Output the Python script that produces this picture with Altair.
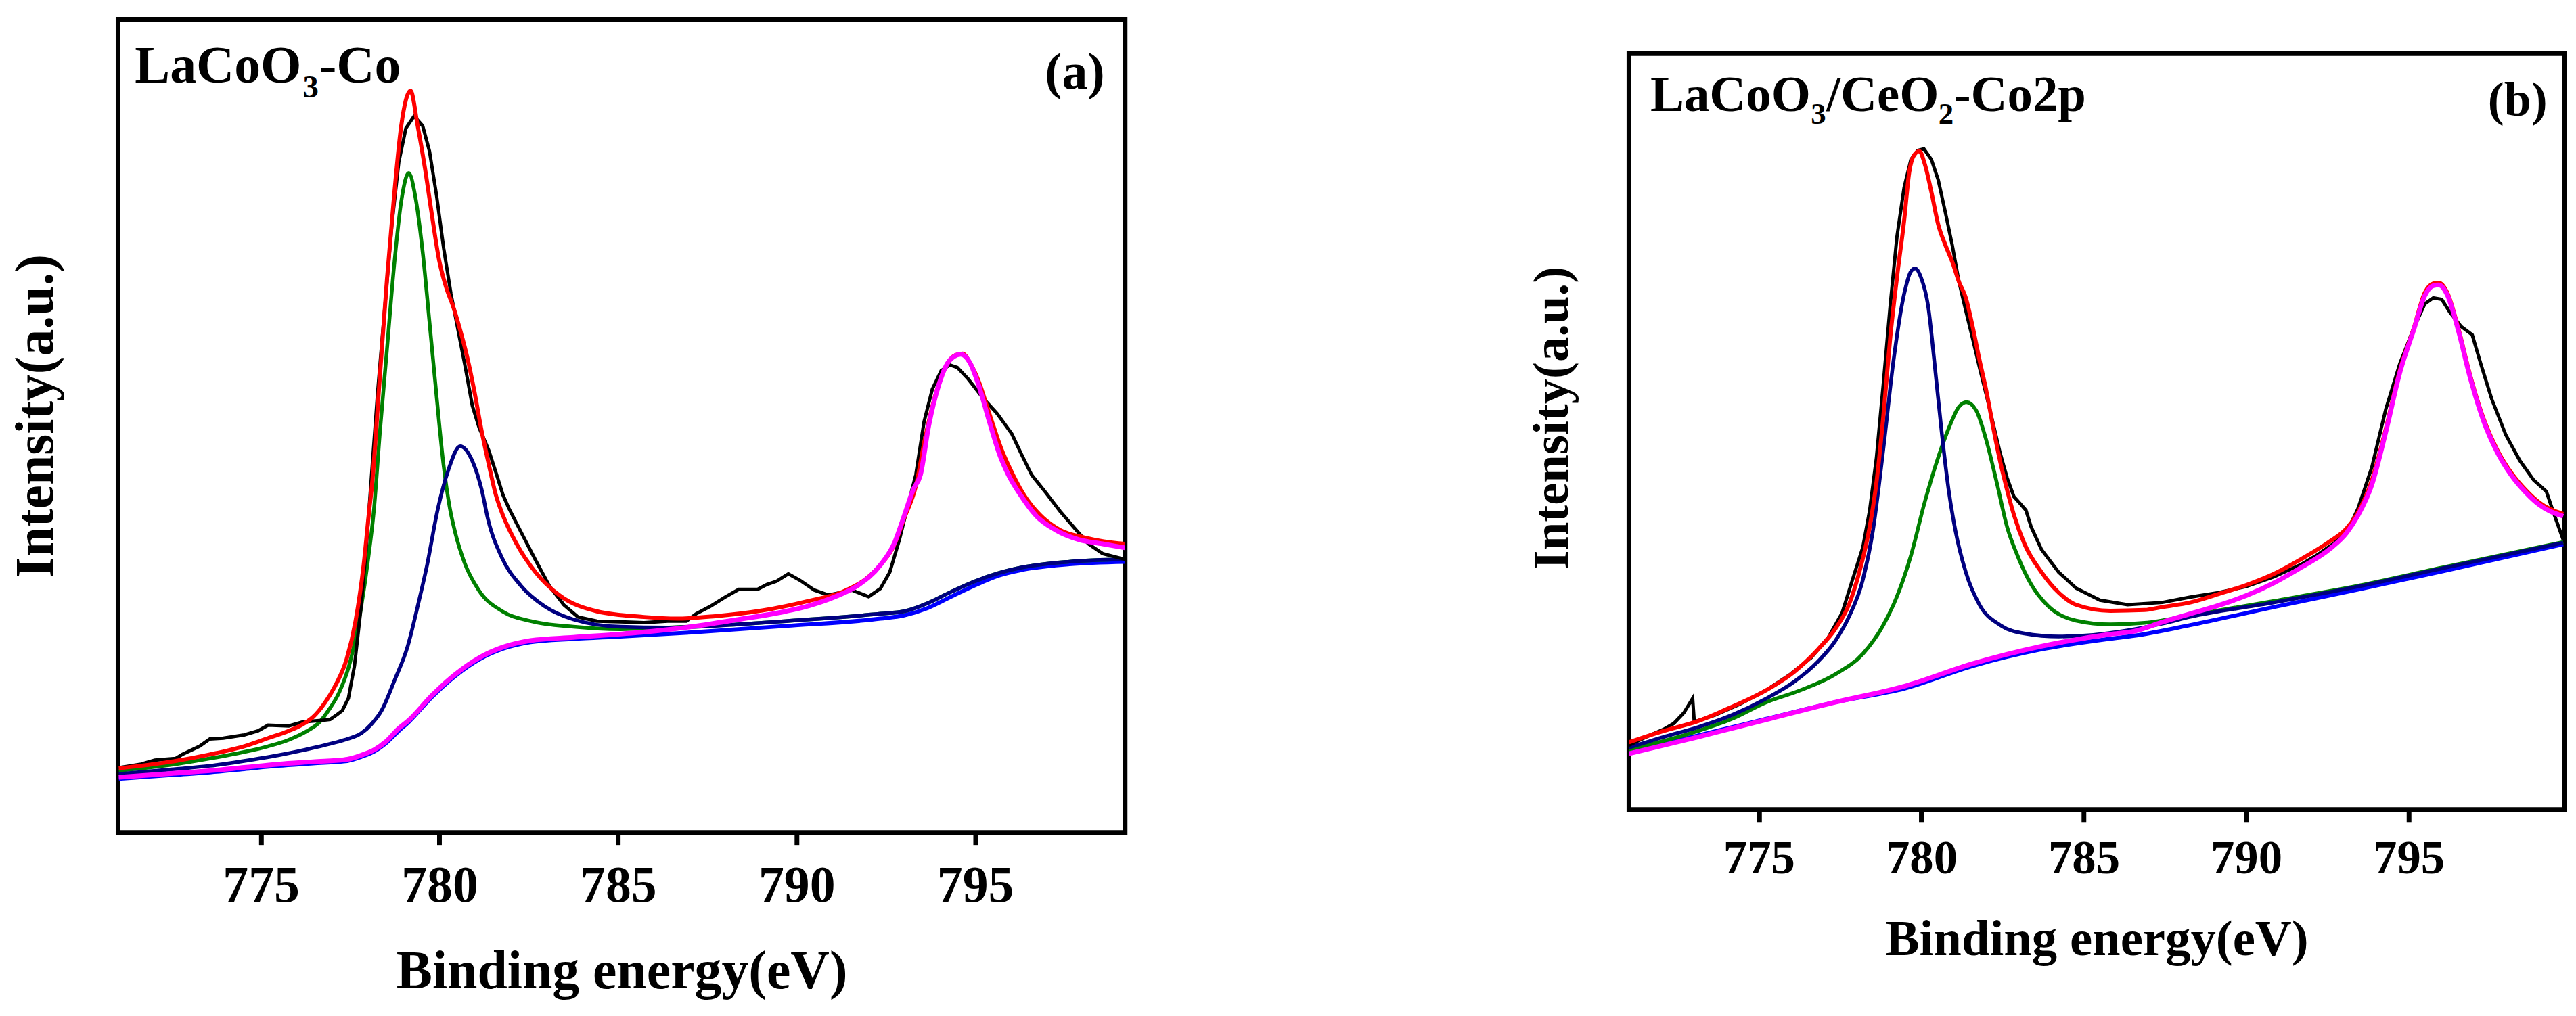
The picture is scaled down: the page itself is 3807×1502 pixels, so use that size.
import altair as alt
import pandas as pd

FONT = "Liberation Serif"

# ---------- panel (a) LaCoO3-Co : (binding energy eV, intensity a.u.) ----------
a_black = [(771.02, 7.96), (771.64, 8.4), (772.03, 8.9), (772.61, 9.1), (772.80, 9.6), (773.28, 10.6),
           (773.57, 11.5), (773.95, 11.6), (774.53, 12.0), (774.92, 12.5), (775.20, 13.2), (775.78, 13.1),
           (776.17, 13.6), (776.75, 13.8), (776.94, 13.9), (777.13, 14.5), (777.28, 15.0), (777.45, 16.5),
           (777.62, 20.5), (777.80, 27.5), (777.95, 35.0), (778.07, 42.2), (778.27, 54.2), (778.47, 64.6),
           (778.67, 74.9), (778.86, 82.4), (779.06, 86.6), (779.29, 88.1), (779.53, 86.9), (779.72, 83.8),
           (779.92, 78.3), (780.12, 71.8), (780.32, 66.3), (780.52, 61.8), (780.72, 57.3), (780.92, 52.5),
           (781.11, 49.8), (781.38, 47.0), (781.58, 44.3), (781.78, 41.5), (781.94, 39.9), (782.29, 36.9),
           (782.69, 33.5), (783.08, 30.3), (783.48, 28.0), (783.88, 26.5), (784.41, 26.0), (785.07, 25.9),
           (785.73, 25.8), (786.39, 26.0), (786.92, 26.0), (787.19, 26.9), (787.58, 27.8), (787.98, 28.9),
           (788.38, 29.9), (788.91, 29.9), (789.17, 30.5), (789.44, 30.9), (789.77, 31.8), (790.10, 31.0),
           (790.50, 29.8), (790.89, 29.2), (791.55, 29.8), (792.02, 29.0), (792.35, 30.0), (792.61, 32.0),
           (792.88, 36.0), (793.14, 40.6), (793.34, 44.0), (793.57, 50.5), (793.80, 54.5), (794.05, 56.8),
           (794.29, 57.5), (794.50, 57.2), (794.80, 55.8), (795.21, 53.5), (795.62, 51.5), (796.03, 49.0),
           (796.30, 46.5), (796.58, 44.0), (796.98, 41.8), (797.38, 39.5), (797.77, 37.5), (798.17, 35.5),
           (798.57, 34.3), (799.10, 33.7), (799.20, 33.6)]

a_red = [(771.02, 7.9), (771.64, 8.2), (772.61, 8.8), (773.57, 9.6), (774.53, 10.6), (775.20, 11.6),
         (775.78, 12.5), (776.17, 13.3), (776.46, 14.2), (776.80, 16.0), (777.10, 18.2), (777.40, 21.3),
         (777.65, 26.0), (777.88, 33.0), (778.04, 39.9), (778.10, 42.2), (778.33, 56.0), (778.53, 68.0),
         (778.73, 78.3), (778.93, 86.9), (779.19, 91.2), (779.39, 86.9), (779.59, 81.8), (779.79, 75.9),
         (779.99, 70.4), (780.19, 67.0), (780.39, 64.6), (780.58, 61.8), (780.78, 58.4), (780.98, 54.2),
         (781.18, 49.4), (781.38, 45.3), (781.58, 41.5), (781.76, 39.2), (782.16, 35.5), (782.69, 32.0),
         (783.35, 29.2), (784.41, 27.2), (785.73, 26.5), (786.66, 26.3), (787.72, 26.6), (789.04, 27.3),
         (790.36, 28.5), (791.29, 29.6), (791.95, 31.2), (792.35, 32.9), (792.75, 35.5), (793.01, 38.6),
         (793.34, 42.6), (793.60, 48.5), (793.90, 54.0), (794.20, 57.5), (794.45, 58.7), (794.65, 58.9),
         (794.85, 57.8), (795.10, 55.5), (795.40, 51.5), (795.75, 47.0), (796.06, 44.0), (796.40, 41.3),
         (796.72, 39.5), (797.38, 37.2), (798.04, 36.3), (798.60, 35.8), (799.20, 35.5)]

a_green = [(771.02, 7.6), (772.61, 8.4), (773.57, 9.1), (774.53, 9.9), (775.20, 10.6), (775.78, 11.4),
           (776.26, 12.4), (776.65, 13.6), (776.89, 15.0), (777.20, 17.3), (777.50, 21.0), (777.80, 27.5),
           (778.00, 33.5), (778.17, 39.9), (778.33, 49.1), (778.53, 59.4), (778.73, 69.7), (778.93, 77.6),
           (779.14, 81.1), (779.32, 78.3), (779.53, 71.4), (779.72, 62.8), (779.92, 53.6), (780.12, 45.0),
           (780.29, 39.9), (780.44, 36.9), (780.70, 33.2), (781.10, 29.8), (781.76, 27.2), (782.55, 26.0),
           (783.75, 25.3), (785.07, 25.0), (786.39, 25.2), (788.38, 25.6), (789.70, 26.0), (792.35, 26.9),
           (793.01, 27.2), (793.67, 28.2), (794.33, 29.6), (795.00, 30.9), (795.66, 31.9), (796.32, 32.6),
           (797.64, 33.3), (799.20, 33.6)]

a_navy = [(771.02, 7.2), (772.61, 7.8), (773.57, 8.2), (774.53, 8.8), (775.49, 9.5), (776.26, 10.2),
          (776.94, 10.9), (777.42, 11.5), (777.81, 12.2), (778.09, 13.3), (778.38, 15.0), (778.75, 18.8),
          (779.11, 22.9), (779.40, 28.0), (779.64, 32.6), (779.96, 39.9), (780.25, 44.6), (780.58, 47.5),
          (780.92, 45.7), (781.18, 42.2), (781.36, 38.5), (781.76, 33.7), (782.29, 30.3), (782.95, 27.8),
          (783.75, 26.2), (785.07, 25.3), (786.39, 25.2), (788.38, 25.6), (789.70, 26.0), (792.35, 26.9),
          (793.01, 27.2), (793.67, 28.2), (794.33, 29.6), (795.00, 30.9), (795.66, 31.9), (796.32, 32.6),
          (797.64, 33.3), (799.20, 33.6)]

a_bg = [(771.02, 6.6), (772.61, 7.1), (773.57, 7.4), (774.53, 7.8), (775.49, 8.2), (776.46, 8.5),
        (777.42, 8.8), (777.81, 9.3), (778.19, 10.0), (778.48, 10.9), (778.86, 12.5), (779.14, 13.6),
        (779.80, 16.7), (780.46, 19.3), (781.12, 21.3), (781.78, 22.6), (782.55, 23.4), (783.75, 23.8),
        (785.07, 24.1), (787.05, 24.6), (789.70, 25.4), (792.35, 26.3), (793.01, 26.7), (793.67, 27.6),
        (794.33, 29.0), (795.00, 30.4), (795.66, 31.6), (796.32, 32.3), (797.64, 33.0), (799.20, 33.3)]

a_magenta = [(771.02, 6.8), (772.61, 7.3), (773.57, 7.6), (774.53, 8.0), (775.49, 8.4), (776.46, 8.7),
             (777.42, 9.0), (777.81, 9.5), (778.19, 10.2), (778.48, 11.1), (778.86, 12.8), (779.14, 13.8),
             (779.80, 16.9), (780.46, 19.5), (781.12, 21.5), (781.78, 22.8), (782.55, 23.6), (783.75, 24.0),
             (785.07, 24.4), (786.10, 24.8), (787.05, 25.3), (788.38, 26.2), (789.70, 27.2), (790.36, 27.9),
             (791.03, 28.9), (791.69, 30.3), (792.35, 32.9), (792.75, 35.7), (793.01, 38.9), (793.28, 42.3),
             (793.47, 44.0), (793.70, 50.0), (793.98, 55.0), (794.20, 57.5), (794.40, 58.5), (794.60, 58.8),
             (794.85, 57.8), (795.10, 55.0), (795.40, 50.5), (795.70, 46.3), (795.93, 44.0), (796.32, 41.2),
             (796.72, 38.9), (797.25, 37.2), (797.91, 36.0), (798.57, 35.5), (799.20, 35.0)]

# ---------- panel (b) LaCoO3/CeO2-Co2p ----------
b_black = [(771.00, 8.5), (771.63, 9.8), (772.06, 10.6), (772.38, 11.4), (772.69, 12.8), (772.96, 14.7),
           (773.01, 11.6), (773.65, 12.5), (774.39, 13.9), (775.23, 15.8), (775.97, 17.9), (776.61, 20.1),
           (777.14, 22.8), (777.56, 26.0), (777.88, 30.4), (778.20, 34.7), (778.41, 39.6), (778.62, 46.6),
           (778.83, 56.3), (779.04, 66.6), (779.25, 75.8), (779.47, 82.3), (779.68, 86.0), (779.89, 87.2),
           (780.08, 87.4), (780.31, 86.0), (780.52, 83.3), (780.74, 79.0), (780.95, 74.7), (781.16, 69.8),
           (781.37, 66.0), (781.58, 62.3), (781.79, 58.5), (782.01, 54.7), (782.22, 50.9), (782.43, 47.1),
           (782.64, 43.9), (782.85, 41.4), (783.06, 40.4), (783.22, 39.6), (783.38, 37.4), (783.70, 34.4),
           (784.23, 31.4), (784.76, 29.3), (785.50, 27.7), (786.35, 27.1), (787.42, 27.4), (788.28, 28.1),
           (789.14, 28.7), (790.00, 29.5), (790.86, 30.8), (791.72, 32.5), (792.23, 33.8), (792.66, 35.1),
           (793.09, 36.6), (793.44, 39.8), (793.87, 45.3), (794.30, 53.0), (794.73, 59.0), (795.16, 63.7),
           (795.50, 66.9), (795.76, 67.7), (796.02, 67.5), (796.27, 65.8), (796.62, 63.9), (796.96, 62.8),
           (797.22, 59.0), (797.56, 54.3), (797.99, 49.6), (798.42, 46.2), (798.85, 43.6), (799.24, 42.1),
           (799.46, 39.3), (799.76, 35.7)]

b_red = [(771.00, 8.9), (772.06, 10.4), (773.12, 11.7), (774.17, 13.6), (775.23, 15.8), (776.08, 18.2),
         (776.82, 21.2), (777.35, 23.9), (777.77, 27.1), (778.09, 31.4), (778.41, 37.4), (778.62, 43.3),
         (778.83, 52.0), (779.04, 62.3), (779.25, 70.4), (779.47, 77.9), (779.63, 84.4), (779.78, 86.6),
         (779.94, 87.1), (780.10, 85.5), (780.31, 81.7), (780.52, 77.4), (780.74, 74.7), (780.95, 72.5),
         (781.16, 69.8), (781.37, 67.7), (781.58, 63.9), (781.79, 59.5), (782.01, 55.2), (782.22, 50.4),
         (782.43, 46.0), (782.64, 42.3), (782.85, 39.0), (783.17, 35.2), (783.70, 31.4), (784.23, 28.7),
         (784.76, 27.1), (785.82, 26.3), (786.87, 26.4), (787.42, 26.8), (788.28, 27.4), (789.14, 28.5),
         (790.00, 29.7), (790.86, 31.2), (791.72, 33.2), (792.58, 35.5), (793.09, 37.2), (793.44, 39.3),
         (793.87, 43.6), (794.30, 50.4), (794.73, 58.1), (795.16, 63.7), (795.50, 68.4), (795.76, 69.6),
         (795.93, 69.7), (796.19, 68.4), (796.53, 63.7), (796.88, 57.7), (797.31, 51.7), (797.74, 47.5),
         (798.17, 44.5), (798.60, 42.3), (799.03, 40.6), (799.76, 39.1)]

b_green = [(771.00, 7.9), (773.12, 10.4), (774.17, 12.0), (775.23, 14.2), (776.29, 15.8), (777.35, 17.9),
           (778.20, 20.6), (778.83, 24.4), (779.25, 28.2), (779.68, 33.6), (780.10, 40.6), (780.52, 46.6),
           (780.84, 50.4), (781.16, 53.3), (781.39, 53.9), (781.69, 52.8), (782.01, 48.7), (782.32, 43.3),
           (782.64, 37.4), (782.96, 33.6), (783.38, 29.8), (783.91, 26.9), (784.76, 25.0), (785.82, 24.5),
           (786.87, 24.7), (788.28, 25.7), (790.86, 27.6), (793.44, 29.6), (796.02, 32.0), (799.76, 35.4)]

b_navy = [(771.00, 8.2), (772.06, 9.6), (773.12, 10.9), (774.17, 12.5), (775.23, 14.7), (776.08, 16.9),
          (776.82, 19.6), (777.35, 22.3), (777.77, 25.5), (778.20, 30.4), (778.51, 36.9), (778.83, 47.7),
          (779.15, 59.6), (779.47, 68.2), (779.68, 71.2), (779.81, 71.6), (779.99, 70.4), (780.21, 66.6),
          (780.42, 58.5), (780.63, 49.8), (780.84, 42.3), (781.05, 36.9), (781.37, 31.4), (781.79, 27.1),
          (782.43, 24.4), (783.17, 23.3), (784.23, 22.9), (785.29, 23.1), (786.35, 23.7), (787.42, 24.6),
          (788.28, 25.5), (790.86, 27.4), (793.44, 29.5), (796.02, 31.9), (799.76, 35.3)]

b_bg = [(771.00, 7.7), (773.12, 9.8), (775.23, 12.0), (777.35, 14.2), (779.47, 16.0), (781.58, 19.0),
        (783.70, 21.2), (785.82, 22.6), (786.56, 23.0), (788.28, 24.4), (790.86, 26.8), (793.44, 29.1),
        (796.02, 31.5), (799.76, 35.1)]

b_magenta = [(771.00, 7.4), (773.12, 9.6), (775.23, 11.9), (777.35, 14.2), (779.47, 16.3), (781.58, 19.3),
             (783.70, 21.6), (785.82, 23.2), (786.56, 23.6), (787.42, 24.8), (788.28, 25.9), (789.14, 27.0),
             (790.00, 28.3), (790.86, 30.0), (791.72, 32.1), (792.58, 34.5), (793.09, 36.6), (793.44, 38.9),
             (793.87, 43.0), (794.30, 50.0), (794.73, 57.8), (795.16, 63.5), (795.50, 68.0), (795.76, 69.3),
             (795.93, 69.4), (796.19, 68.1), (796.53, 63.4), (796.88, 57.4), (797.31, 51.4), (797.74, 47.2),
             (798.17, 44.2), (798.60, 42.0), (799.03, 40.3), (799.76, 38.8)]

x_ticks = [775, 780, 785, 790, 795]


def panel(curves, x_max, w, h, fs_label, fs_title, title_pad_y, title_y, label_pad, title_pad_x, texts):
    x = alt.X("ev:Q", scale=alt.Scale(domain=[771, x_max], nice=False, zero=False),
              axis=alt.Axis(values=x_ticks, format="d", title="Binding energy(eV)", grid=False,
                            domain=False, tickSize=18, tickWidth=7, tickColor="black",
                            labelFont=FONT, labelFontWeight="bold", labelFontSize=fs_label,
                            labelColor="black", labelPadding=label_pad,
                            titleFont=FONT, titleFontWeight="bold", titleFontSize=fs_title,
                            titleColor="black", titlePadding=title_pad_x))
    y = alt.Y("inten:Q", scale=alt.Scale(domain=[0, 100], nice=False, zero=False),
              axis=alt.Axis(title="Intensity(a.u.)", labels=False, ticks=False, domain=False, grid=False,
                            titleFont=FONT, titleFontWeight="bold", titleFontSize=fs_title,
                            titleColor="black", titlePadding=title_pad_y, titleY=title_y))
    layers = []
    for pts, color, sw, interp in curves:
        df = pd.DataFrame(pts, columns=["ev", "inten"])
        layers.append(alt.Chart(df).mark_line(color=color, strokeWidth=sw, interpolate=interp,
                                              clip=True).encode(x=x, y=y))
    for ev, inten, txt, size, dx, dy, align in texts:
        df = pd.DataFrame({"ev": [ev], "inten": [inten], "t": [txt]})
        layers.append(alt.Chart(df).mark_text(font=FONT, fontWeight="bold", fontSize=size, color="black",
                                              align=align, baseline="alphabetic", dx=dx, dy=dy)
                      .encode(x=x, y=y, text="t:N"))
    return alt.layer(*layers).properties(width=w, height=h)


curves_a = [(a_bg, "#0000FF", 6, "monotone"), (a_green, "#008000", 5.5, "monotone"),
            (a_navy, "#000080", 5.5, "monotone"), (a_black, "#000000", 5, "linear"),
            (a_red, "#FF0000", 6, "monotone"), (a_magenta, "#FF00FF", 7, "monotone")]
curves_b = [(b_bg, "#0000FF", 6, "monotone"), (b_green, "#008000", 5.5, "monotone"),
            (b_navy, "#000080", 5.5, "monotone"), (b_black, "#000000", 5, "linear"),
            (b_red, "#FF0000", 6, "monotone"), (b_magenta, "#FF00FF", 7, "monotone")]

texts_a = [(771.47, 92.2, "LaCoO", 78, 0, 0, "left"), (771.47, 92.2, "3", 47, 249, 22, "left"),
           (771.47, 92.2, "-Co", 78, 273, 0, "left"), (798.63, 91.5, "(a)", 76, 0, 0, "right")]
texts_b = [(771.66, 92.4, "LaCoO", 75, 0, 0, "left"), (771.66, 92.4, "3", 45, 238, 19, "left"),
           (771.66, 92.4, "/CeO", 75, 261, 0, "left"), (771.66, 92.4, "2", 45, 427, 19, "left"),
           (771.66, 92.4, "-Co2p", 75, 450, 0, "left"), (799.27, 91.8, "(b)", 72, 0, 0, "right")]

chart_a = panel(curves_a, 799.2, 1493, 1206, 76, 80, 80, 588, 24, 51, texts_a)
chart_b = panel(curves_b, 799.8, 1387, 1121, 71, 75, 75, 540, 20, 48, texts_b)

chart = alt.hconcat(chart_a, chart_b, spacing=588, center=True).properties(
    padding={"left": 2, "top": 14, "right": 5, "bottom": 5}
).configure_view(stroke="black", strokeWidth=7)

chart.save("out.html", embed_options={"renderer": "svg", "actions": False})
